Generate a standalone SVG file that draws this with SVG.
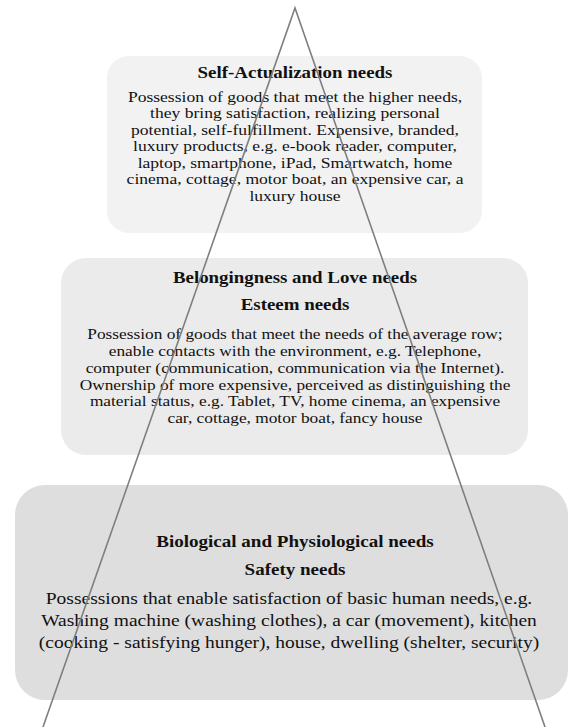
<svg xmlns="http://www.w3.org/2000/svg" width="569" height="727" viewBox="0 0 569 727">
<style>
text{font-family:"Liberation Serif","Times New Roman",serif;fill:#111;text-anchor:middle}
.t{font-weight:bold;font-size:16.6px}
.b{font-size:15.4px}
.bm{font-size:15.2px}
.t2{font-weight:bold;font-size:16.7px}
.b2{font-size:17.1px}
.edge{stroke:#7f7f7f;stroke-width:1.6;fill:none}
</style>
<rect width="569" height="727" fill="#ffffff"/>
<g id="self-actualization">
<rect x="107" y="56" width="375" height="177" rx="22" fill="#f2f2f2"/>
<g transform="translate(295 0) scale(1.14 1)">
<text class="t" x="0" y="78">Self-Actualization needs</text>
<text class="b" x="0" y="102">Possession of goods that meet the higher needs,</text>
<text class="b" x="0" y="118.5">they bring satisfaction, realizing personal</text>
<text class="b" x="0" y="135">potential, self-fulfillment. Expensive, branded,</text>
<text class="b" x="0" y="151.5">luxury products, e.g. e-book reader, computer,</text>
<text class="b" x="0" y="168">laptop, smartphone, iPad, Smartwatch, home</text>
<text class="b" x="0" y="184.5">cinema, cottage, motor boat, an expensive car, a</text>
<text class="b" x="0" y="201">luxury house</text>
</g>
</g>
<g id="belonging-esteem">
<rect x="61" y="258" width="467" height="197" rx="25" fill="#ebebeb"/>
<g transform="translate(295 0) scale(1.14 1)">
<text class="t" x="0" y="283">Belongingness and Love needs</text>
<text class="t" x="0" y="310">Esteem needs</text>
<text class="bm" x="0" y="339">Possession of goods that meet the needs of the average row;</text>
<text class="bm" x="0" y="356">enable contacts with the environment, e.g. Telephone,</text>
<text class="bm" x="0" y="373">computer (communication, communication via the Internet).</text>
<text class="bm" x="0" y="390">Ownership of more expensive, perceived as distinguishing the</text>
<text class="bm" x="0" y="406.5">material status, e.g. Tablet, TV, home cinema, an expensive</text>
<text class="bm" x="0" y="423">car, cottage, motor boat, fancy house</text>
</g>
</g>
<g id="biological-safety">
<rect x="15" y="485" width="553" height="215" rx="30" fill="#dedede"/>
<g transform="translate(295 0) scale(1.14 1)">
<text class="t2" x="0" y="547">Biological and Physiological needs</text>
<text class="t2" x="0" y="575">Safety needs</text>
</g>
<g transform="translate(289 0) scale(1.14 1)">
<text class="b2" x="0" y="604">Possessions that enable satisfaction of basic human needs, e.g.</text>
<text class="b2" x="0" y="626">Washing machine (washing clothes), a car (movement), kitchen</text>
<text class="b2" x="0" y="648">(cooking - satisfying hunger), house, dwelling (shelter, security)</text>
</g>
</g>
<g id="connectors">
<polyline class="edge" points="43,727 295,8 545,727"/>
</g>
</svg>
